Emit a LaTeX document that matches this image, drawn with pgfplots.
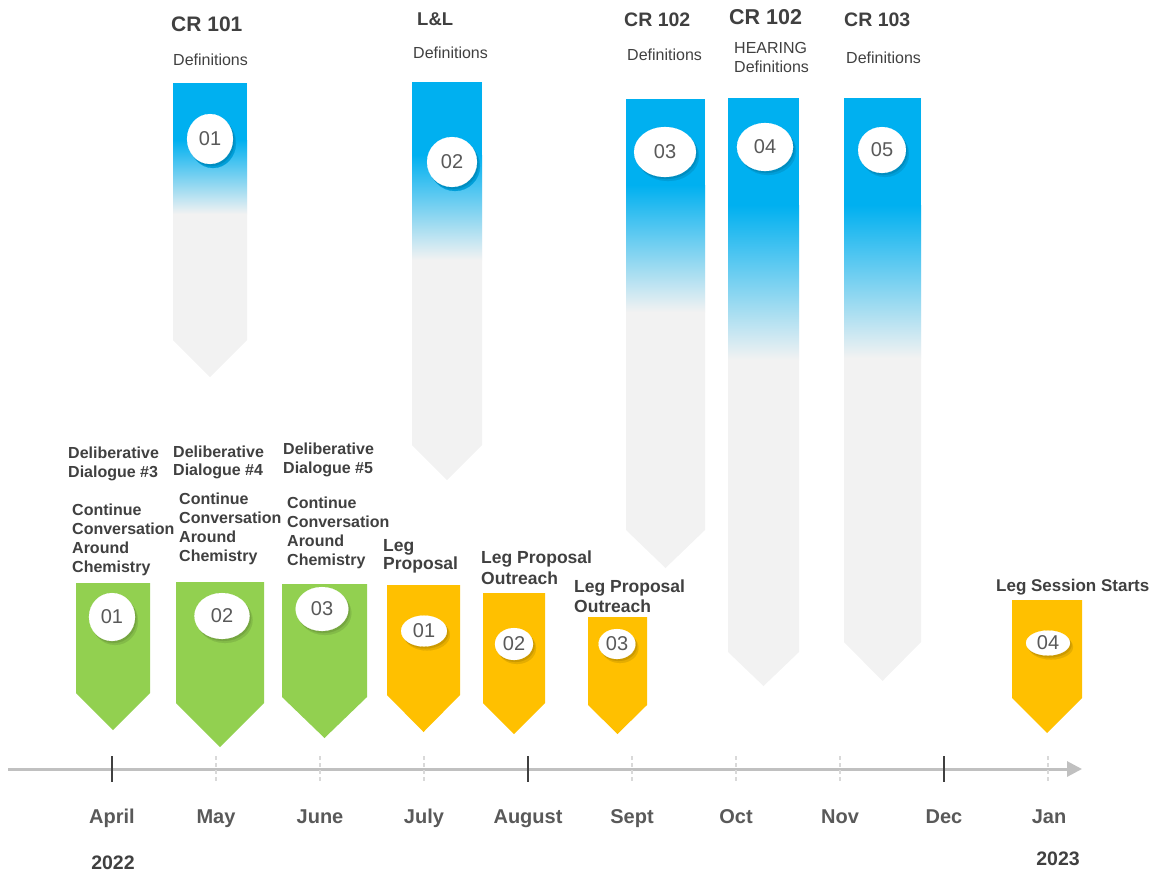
\documentclass[border=0pt]{standalone}
\usepackage{fontspec}
\setmainfont{Liberation Sans}
\usepackage{pgfplots}
\pgfplotsset{compat=1.18}
\usetikzlibrary{arrows.meta}
\definecolor{cblue}{HTML}{00B0F0}
\definecolor{cgray}{HTML}{F2F2F2}
\definecolor{cgreen}{HTML}{92D050}
\definecolor{cyellow}{HTML}{FFC000}
\definecolor{ctext}{HTML}{404040}
\definecolor{cmonth}{HTML}{595959}
\definecolor{cline}{HTML}{C0C0C0}
\definecolor{cdash}{HTML}{D9D9D9}

% blue arrow: x1 x2 xm top solidEnd gradStart grayEnd shoulder tip
\newcommand{\barrow}[9]{%
  \addplot[draw=none, fill=cgray] coordinates {(#1,#4) (#2,#4) (#2,#8) (#3,#9) (#1,#8)} -- cycle;
  \addplot[draw=none, fill=cblue] coordinates {(#1,#4) (#2,#4) (#2,#5) (#1,#5)} -- cycle;
  \addplot[draw=none, top color=cblue, bottom color=cgray] coordinates {(#1,#6) (#2,#6) (#2,#7) (#1,#7)} -- cycle;
}
% solid arrow: colour x1 x2 xm top shoulder tip
\newcommand{\sarrow}[7]{%
  \addplot[draw=none, fill=#1] coordinates {(#2,#5) (#3,#5) (#3,#6) (#4,#7) (#2,#6)} -- cycle;
}
% ellipse badge: x y ry xscale number background
\newcommand{\badge}[6]{%
  \addplot[only marks, mark=*, mark size=#3pt, mark options={draw=#6!90!black, line width=0.1pt, fill=#6!90!black, xscale=#4}] coordinates {(#1+3,#2+4)};
  \addplot[only marks, mark=*, mark size=#3pt, mark options={draw=#6!80!black, line width=0.1pt, fill=#6!80!black, xscale=#4}] coordinates {(#1+1.5,#2+2)};
  \addplot[only marks, mark=*, mark size=#3pt, mark options={draw=white, line width=0.1pt, fill=white, xscale=#4},
    nodes near coords={\fontsize{20}{20}\selectfont #5}, every node near coord/.style={anchor=center, inner sep=0pt, text=cmonth}] coordinates {(#1,#2)};
}
\newcommand{\txt}[4]{\node[anchor=base west, inner sep=0pt, text=ctext, font=\fontsize{#3}{#3}\selectfont\bfseries] at (axis cs:#1,#2) {#4};}
\newcommand{\rtxt}[4]{\node[anchor=base west, inner sep=0pt, text=ctext, font=\fontsize{#3}{#3}\selectfont] at (axis cs:#1,#2) {#4};}
\newcommand{\mon}[2]{\node[anchor=base, inner sep=0pt, text=cmonth, font=\fontsize{20}{20}\selectfont\bfseries] at (axis cs:#1,823) {#2};}

\begin{document}
\begin{tikzpicture}
\begin{axis}[width=1155pt, height=873pt, scale only axis,
  xmin=0, xmax=1155, ymin=0, ymax=873, y dir=reverse,
  hide axis, clip=false]
\addplot[draw=none] coordinates {(0,0) (1155,873)};

% blue arrows
\barrow{173}{247}{210}{83}{141}{140}{214}{340}{377}
\barrow{412}{482}{447}{82}{156}{155}{260}{445}{480}
\barrow{626}{705}{665.5}{99}{186}{185}{312}{530}{568}
\barrow{728}{799}{763.5}{98}{206}{205}{360}{652}{686}
\barrow{844}{921}{882.5}{98}{206}{205}{358}{642}{681}

% green arrows
\sarrow{cgreen}{76}{150}{113}{583}{693}{730}
\sarrow{cgreen}{176}{264}{220}{582}{703}{747}
\sarrow{cgreen}{282}{367}{324.5}{584}{697}{738}
% yellow arrows
\sarrow{cyellow}{387}{460}{423.5}{585}{695}{732}
\sarrow{cyellow}{483}{545}{514}{593}{703}{734}
\sarrow{cyellow}{588}{647}{617.5}{617}{705}{734}
\sarrow{cyellow}{1012}{1082}{1047}{600}{698}{733}

% badges
\badge{210}{139}{25}{0.92}{01}{cblue}
\badge{452}{162}{25}{1.0}{02}{cblue}
\badge{665}{152}{25}{1.24}{03}{cblue}
\badge{765}{147}{24}{1.17}{04}{cblue}
\badge{882}{150}{23}{1.04}{05}{cblue}
\badge{112}{617}{24}{0.96}{01}{cgreen}
\badge{222}{616}{23}{1.2}{02}{cgreen}
\badge{322}{609}{22}{1.2}{03}{cgreen}
\badge{424}{631}{15.5}{1.48}{01}{cyellow}
\badge{514}{644}{16}{1.19}{02}{cyellow}
\badge{617}{644}{15}{1.23}{03}{cyellow}
\badge{1048}{643}{12.5}{1.76}{04}{cyellow}

% timeline
\addplot[cline, line width=3pt, -{Triangle[length=15pt, width=15pt]}] coordinates {(8,769) (1082,769)};
\addplot[ctext, line width=2.5pt] coordinates {(112,756) (112,782)};
\addplot[ctext, line width=2.5pt] coordinates {(528,756) (528,782)};
\addplot[ctext, line width=2.5pt] coordinates {(944,756) (944,782)};
\addplot[cdash, line width=1.5pt, dash pattern=on 4pt off 3pt] coordinates {(216,756) (216,782)};
\addplot[cdash, line width=1.5pt, dash pattern=on 4pt off 3pt] coordinates {(320,756) (320,782)};
\addplot[cdash, line width=1.5pt, dash pattern=on 4pt off 3pt] coordinates {(424,756) (424,782)};
\addplot[cdash, line width=1.5pt, dash pattern=on 4pt off 3pt] coordinates {(632,756) (632,782)};
\addplot[cdash, line width=1.5pt, dash pattern=on 4pt off 3pt] coordinates {(736,756) (736,782)};
\addplot[cdash, line width=1.5pt, dash pattern=on 4pt off 3pt] coordinates {(840,756) (840,782)};
\addplot[cdash, line width=1.5pt, dash pattern=on 4pt off 3pt] coordinates {(1048,756) (1048,782)};

% month labels
\mon{112}{April}
\mon{216}{May}
\mon{320}{June}
\mon{424}{July}
\mon{528}{August}
\mon{632}{Sept}
\mon{736}{Oct}
\mon{840}{Nov}
\mon{944}{Dec}
\mon{1049}{Jan}
\node[anchor=base, inner sep=0pt, text=ctext, font=\fontsize{19.5}{20}\selectfont\bfseries] at (axis cs:113,869) {2022};
\node[anchor=base, inner sep=0pt, text=ctext, font=\fontsize{19.5}{20}\selectfont\bfseries] at (axis cs:1058,865) {2023};

% top labels
\txt{171}{31}{21}{CR 101}
\rtxt{173}{65}{16}{Definitions}
\txt{417}{25}{18.5}{L\&L}
\rtxt{413}{58}{16}{Definitions}
\txt{624}{26}{19.5}{CR 102}
\rtxt{627}{60}{16}{Definitions}
\txt{729}{24}{21.5}{CR 102}
\rtxt{734}{53}{16}{HEARING}
\rtxt{734}{72}{16}{Definitions}
\txt{844}{26}{19.5}{CR 103}
\rtxt{846}{63}{16}{Definitions}

% green labels
\txt{68}{458}{16}{Deliberative}
\txt{68}{477}{16}{Dialogue \#3}
\txt{72}{515}{16}{Continue}
\txt{72}{534}{16}{Conversation}
\txt{72}{553}{16}{Around}
\txt{72}{572}{16}{Chemistry}
\txt{173}{457}{16}{Deliberative}
\txt{173}{475}{16}{Dialogue \#4}
\txt{179}{504}{16}{Continue}
\txt{179}{523}{16}{Conversation}
\txt{179}{542}{16}{Around}
\txt{179}{561}{16}{Chemistry}
\txt{283}{454}{16}{Deliberative}
\txt{283}{473}{16}{Dialogue \#5}
\txt{287}{508}{16}{Continue}
\txt{287}{527}{16}{Conversation}
\txt{287}{546}{16}{Around}
\txt{287}{565}{16}{Chemistry}

% yellow labels
\txt{383}{551}{17.5}{Leg}
\txt{383}{569}{17.5}{Proposal}
\txt{481}{563}{17.5}{Leg Proposal}
\txt{481}{584}{17.5}{Outreach}
\txt{574}{592}{17.5}{Leg Proposal}
\txt{574}{612}{17.5}{Outreach}
\txt{996}{591}{17}{Leg Session Starts}
\end{axis}
\end{tikzpicture}
\end{document}
